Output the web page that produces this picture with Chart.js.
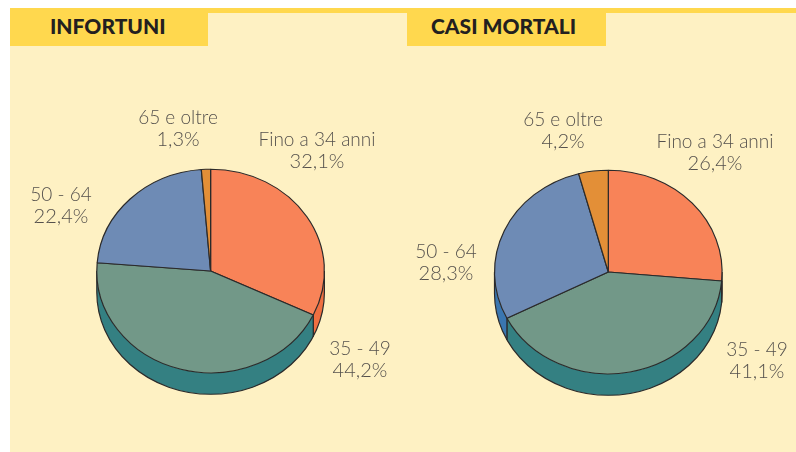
<!DOCTYPE html>
<html>
<head>
<meta charset="utf-8">
<script src="https://cdn.jsdelivr.net/npm/chart.js@4"></script>
<style>
  html, body { margin: 0; padding: 0; background: #fff; }
  #page { position: relative; width: 796px; height: 452px; overflow: hidden; }
  #panel { position: absolute; left: 10px; top: 13px; right: 0; bottom: 0; background: #fef1c3; }
  #strip { position: absolute; left: 10px; top: 8px; right: 0; height: 5px; background: #ffd84e; }
  .tab { position: absolute; height: 38px; background: #ffd84e; color: #231f20;
         font: 900 21px/36px Lato, sans-serif; white-space: nowrap; }
  #tab1 { left: 10px; top: 8px; width: 198px; }
  #tab2 { left: 407px; top: 8px; width: 199px; }
  #tab1 span { position: absolute; left: 40px; }
  #tab2 span { position: absolute; left: 24px; }
  canvas { position: absolute; top: 0; }
  #pie1 { left: 0; }
  #pie2 { left: 398px; }
</style>
</head>
<body>
<div id="page">
  <div id="strip"></div>
  <div id="panel"></div>
  <div class="tab" id="tab1"><span>INFORTUNI</span></div>
  <div class="tab" id="tab2"><span>CASI MORTALI</span></div>
  <canvas id="pie1" width="398" height="452"></canvas>
  <canvas id="pie2" width="398" height="452"></canvas>
</div>
<script>
const categories = ['Fino a 34 anni', '35 - 49', '50 - 64', '65 e oltre'];
const infortuni = [32.1, 44.2, 22.4, 1.3];
const casiMortali = [26.4, 41.1, 28.3, 4.2];

const topColors = ['#f88358', '#729888', '#6e8bb5', '#e38f37'];
const sideColors = ['#ef6f41', '#348082', '#3a76b0', '#c9762a'];
const outline = '#2b2a2a';

// the pie is squashed to look tilted, radius is 114 wide and 102 tall
const squash = 102 / 114;
const depth = 21.5;

const tiltPlugin = {
  id: 'tilt',
  beforeDatasetsDraw(chart) {
    const ctx = chart.ctx;
    const arcs = chart.getDatasetMeta(0).data;
    const { x, y, outerRadius: r } = arcs[0];
    const dy = depth / squash;
    ctx.save();
    ctx.translate(x, y);
    ctx.scale(1, squash);
    ctx.translate(-x, -y);

    // side wall, only the front half of the rim can be seen
    arcs.forEach((arc, i) => {
      const from = Math.max(arc.startAngle, 0);
      const to = Math.min(arc.endAngle, Math.PI);
      if (to <= from) return;
      ctx.beginPath();
      ctx.arc(x, y, r, from, to);
      ctx.arc(x, y + dy, r, to, from, true);
      ctx.closePath();
      ctx.fillStyle = sideColors[i];
      ctx.fill();
      // seam between two slices
      if (from > 0) {
        ctx.beginPath();
        ctx.moveTo(x + r * Math.cos(from), y + r * Math.sin(from));
        ctx.lineTo(x + r * Math.cos(from), y + dy + r * Math.sin(from));
        ctx.strokeStyle = outline;
        ctx.lineWidth = 1.2;
        ctx.stroke();
      }
      if (to < Math.PI) {
        ctx.beginPath();
        ctx.moveTo(x + r * Math.cos(to), y + r * Math.sin(to));
        ctx.lineTo(x + r * Math.cos(to), y + dy + r * Math.sin(to));
        ctx.strokeStyle = outline;
        ctx.lineWidth = 1.2;
        ctx.stroke();
      }
    });

    ctx.beginPath();
    ctx.moveTo(x + r, y);
    ctx.lineTo(x + r, y + dy);
    ctx.arc(x, y + dy, r, 0, Math.PI);
    ctx.lineTo(x - r, y);
    ctx.strokeStyle = outline;
    ctx.lineWidth = 1.2;
    ctx.stroke();
  },
  afterDatasetsDraw(chart) {
    chart.ctx.restore();
  }
};

const labelPlugin = {
  id: 'sliceLabels',
  afterDraw(chart, args, opts) {
    const ctx = chart.ctx;
    const values = chart.data.datasets[0].data;
    ctx.save();
    ctx.fillStyle = '#55514d';
    ctx.textAlign = 'center';
    ctx.textBaseline = 'middle';
    chart.data.labels.forEach((label, i) => {
      const [x, y] = opts.anchors[i];
      ctx.font = '300 19px Lato, sans-serif';
      ctx.fillText(label, x, y);
      ctx.font = '300 20px Lato, sans-serif';
      ctx.fillText(values[i].toFixed(1).replace('.', ',') + '%', x, y + 22);
    });
    ctx.restore();
  }
};

function createPie(id, values, centerX, centerY, anchors) {
  const r = 114.4;
  return new Chart(document.getElementById(id), {
    type: 'pie',
    data: {
      labels: categories,
      datasets: [{
        data: values,
        backgroundColor: topColors,
        borderColor: outline,
        borderWidth: 1.2,
        clip: false
      }]
    },
    options: {
      responsive: false,
      animation: false,
      events: [],
      layout: {
        padding: {
          left: centerX - r,
          right: 398 - centerX - r,
          top: centerY - r,
          bottom: 452 - centerY - r
        }
      },
      plugins: {
        legend: { display: false },
        tooltip: { enabled: false },
        sliceLabels: { anchors: anchors }
      }
    },
    plugins: [tiltPlugin, labelPlugin]
  });
}

createPie('pie1', infortuni, 210.6, 271, [[317, 140], [360, 349], [61, 195], [178, 118]]);
createPie('pie2', casiMortali, 210.3, 272, [[317, 142], [359, 350], [48, 252], [165, 120]]);
</script>
</body>
</html>
